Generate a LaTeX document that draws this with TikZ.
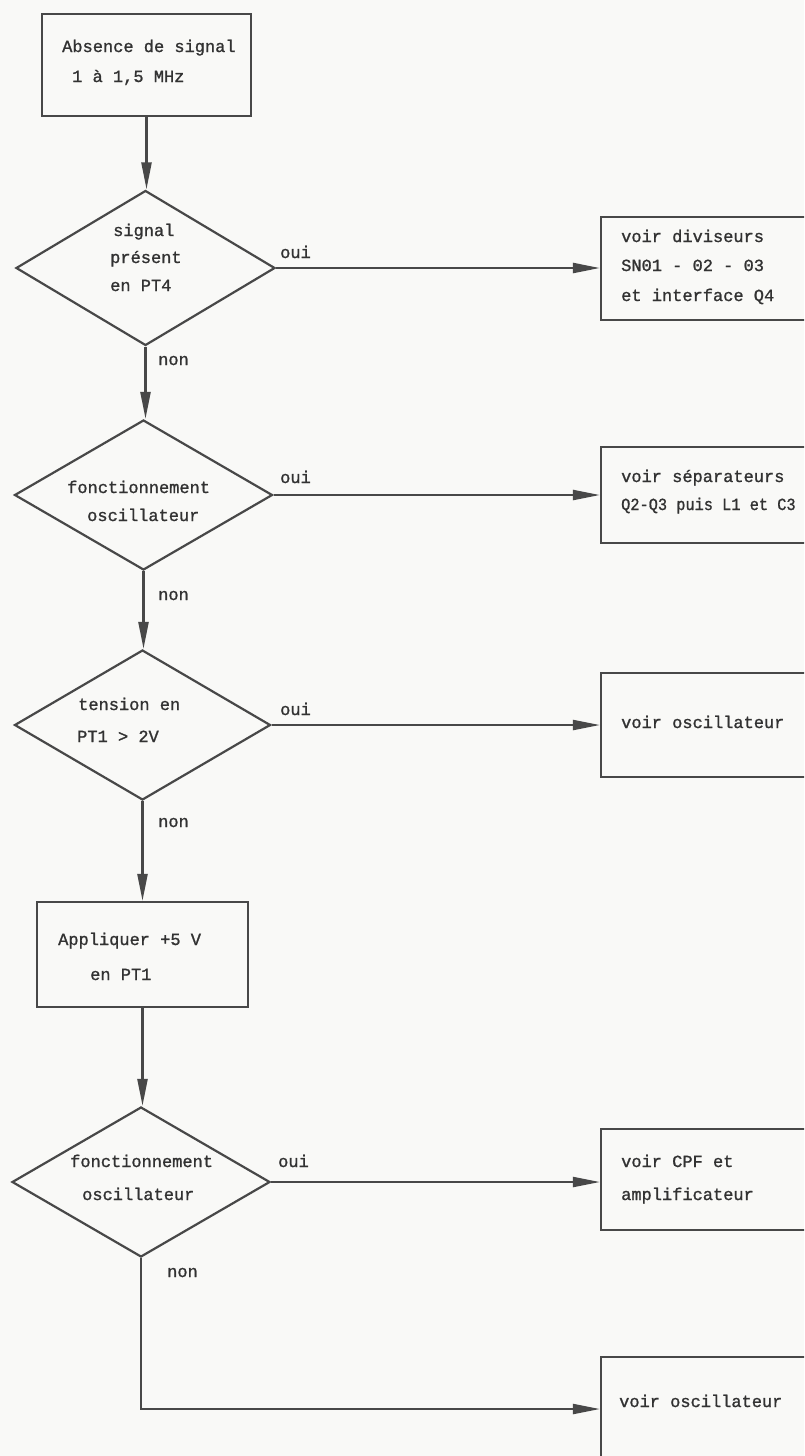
\documentclass[tikz,border=0pt]{standalone}
\usepackage{fontspec}
\newfontfamily\tw{Liberation Mono}[BoldFont={Liberation Mono},BoldFeatures={FakeBold=1.2}]
\usetikzlibrary{arrows.meta,shapes.geometric}
\definecolor{linec}{RGB}{72,72,72}
\definecolor{textc}{RGB}{50,50,50}
\definecolor{paper}{RGB}{249,249,247}
\begin{document}
\begin{tikzpicture}[x=1pt,y=-1pt,
  box/.style={draw=linec,line width=2.2pt,rectangle,inner sep=0pt},
  dia/.style={draw=linec,line width=2.2pt,diamond,inner sep=0pt,aspect=1.7},
  arr/.style={draw=linec,line width=2.2pt,-{Triangle[length=27pt,width=10pt]}},
  txt/.style={font=\tw\bfseries\fontsize{17}{30}\selectfont,text=textc,anchor=base west,inner sep=0pt}]
\useasboundingbox (0,0) rectangle (804,1456);
\clip (0,0) rectangle (804,1456);
\fill[paper] (0,0) rectangle (804,1456);

% left column shapes
\node[box,minimum width=209pt,minimum height=102pt] (top) at (146.5,65) {};
\node[dia,minimum width=259pt,minimum height=155pt] (d1) at (145.5,268) {};
\node[dia,minimum width=258pt,minimum height=150pt] (d2) at (143.5,495) {};
\node[dia,minimum width=256pt,minimum height=150pt] (d3) at (142.5,725) {};
\node[box,minimum width=211pt,minimum height=105pt] (b2) at (142.5,954.5) {};
\node[dia,minimum width=258pt,minimum height=150pt] (d4) at (141,1182) {};

% right column shapes
\node[box,minimum width=259pt,minimum height=103pt] (r1) at (730.5,268.5) {};
\node[box,minimum width=259pt,minimum height=96pt] (r2) at (730.5,495) {};
\node[box,minimum width=259pt,minimum height=104pt] (r3) at (730.5,725) {};
\node[box,minimum width=259pt,minimum height=101pt] (r4) at (730.5,1179.5) {};
\node[box,minimum width=259pt,minimum height=104pt] (r5) at (730.5,1409) {};

% texts
\node[txt] (t1a) at (62,52) {Absence de signal};
\node[txt] (t1b) at (72,82) {1 à 1,5 MHz};
\node[txt] (t2a) at (113,236) {signal};
\node[txt] (t2b) at (110,263) {présent};
\node[txt] (t2c) at (110,291) {en PT4};
\node[txt] (t3a) at (67,493) {fonctionnement};
\node[txt] (t3b) at (87,521) {oscillateur};
\node[txt] (t4a) at (78,710) {tension en};
\node[txt] (t4b) at (77,742) {PT1 > 2V};
\node[txt] (t5a) at (58,945) {Appliquer +5 V};
\node[txt] (t5b) at (90,980) {en PT1};
\node[txt] (t6a) at (70,1167) {fonctionnement};
\node[txt] (t6b) at (82,1200) {oscillateur};

\node[txt] (s1a) at (621,242) {voir diviseurs};
\node[txt] (s1b) at (621,271) {SN01 - 02 - 03};
\node[txt] (s1c) at (621,301) {et interface Q4};
\node[txt] (s2a) at (621,482) {voir séparateurs};
\node[txt] (s2b) at (621,510) {\scalebox{0.9}[1]{Q2-Q3 puis L1 et C3}};
\node[txt] (s3a) at (621,728) {voir oscillateur};
\node[txt] (s4a) at (621,1167) {voir CPF et};
\node[txt] (s4b) at (621,1200) {amplificateur};
\node[txt] (s5a) at (619,1407) {voir oscillateur};

% yes / no labels
\node[txt] (o1) at (280,258) {oui};
\node[txt] (o2) at (280,483) {oui};
\node[txt] (o3) at (280,715) {oui};
\node[txt] (o4) at (278,1167) {oui};
\node[txt] (n1) at (158,365) {non};
\node[txt] (n2) at (158,600) {non};
\node[txt] (n3) at (158,827) {non};
\node[txt] (n4) at (167,1277) {non};

% connectors
\draw[arr] (top.south) -- (top.south |- d1.north);
\draw[arr] (d1.south) -- (d1.south |- d2.north);
\draw[arr] (d2.south) -- (d2.south |- d3.north);
\draw[arr] (d3.south) -- (d3.south |- b2.north);
\draw[arr] (b2.south) -- (b2.south |- d4.north);
\draw[arr] (d1.east) -- (r1.west |- d1.east);
\draw[arr] (d2.east) -- (r2.west |- d2.east);
\draw[arr] (d3.east) -- (r3.west |- d3.east);
\draw[arr] (d4.east) -- (r4.west |- d4.east);
\draw[arr] (d4.south) |- (r5.west);
\end{tikzpicture}
\end{document}
